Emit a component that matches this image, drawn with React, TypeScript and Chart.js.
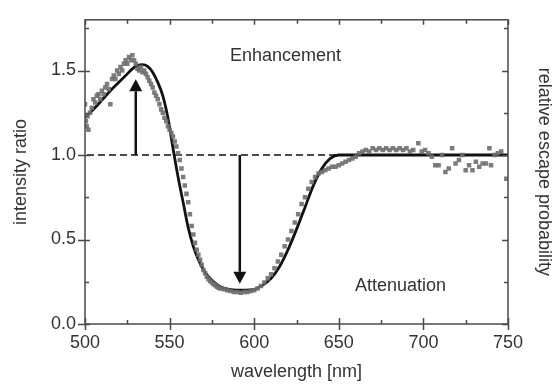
import { useEffect, useRef } from "react";
import { Chart, registerables } from "chart.js";
Chart.register(...registerables);

const X_MIN = 500;
const X_MAX = 750;
const Y_MIN = 0;
const Y_MAX = 1.8;
const X_TICKS = [500, 550, 600, 650, 700, 750];
const X_MINOR = [525, 575, 625, 675, 725];
const Y_TICKS = [0, 0.5, 1.0, 1.5];
const Y_MINOR = [0.25, 0.75, 1.25, 1.75];

const DATA_X = [
  500, 500.5, 501, 501.5, 502, 503, 504, 505, 506, 507, 508, 509, 510, 511, 512, 513, 514, 515, 516, 517,
  518, 519, 520, 521, 522, 523, 524, 525, 526, 527, 528, 529, 530, 531, 532, 533, 534, 535, 536, 537,
  538, 539, 540, 541, 542, 543, 544, 545, 546, 547, 548, 549, 550, 551, 552, 553, 554, 555, 556, 557,
  558, 559, 560, 561, 562, 563, 564, 565, 566, 567, 568, 569, 570, 571, 572, 573, 574, 575, 576, 577,
  578, 579, 580, 582, 584, 586, 588, 590, 592, 594, 596, 598, 600, 602, 604, 606, 608, 610, 612, 614,
  616, 618, 620, 622, 624, 626, 628, 630, 632, 634, 636, 638, 640, 642, 644, 646, 648, 650, 652, 654,
  656, 658, 660, 662, 664, 666, 668, 670, 672, 674, 676, 678, 680, 682, 684, 686, 688, 690, 692, 694,
  697, 699, 701, 703, 705, 707, 709, 711, 713, 715, 717, 719, 721, 723, 725, 727, 729, 731, 733, 735,
  737, 739, 740, 742, 744, 746, 749,
];
const DATA_Y = [
  1.30, 1.20, 1.17, 1.23, 1.15, 1.25, 1.28, 1.33, 1.31, 1.35, 1.36, 1.33, 1.38, 1.36, 1.40, 1.42, 1.39, 1.30, 1.45, 1.47,
  1.45, 1.50, 1.48, 1.52, 1.50, 1.54, 1.56, 1.54, 1.58, 1.56, 1.59, 1.56, 1.54, 1.51, 1.50, 1.52, 1.49, 1.50, 1.48, 1.46,
  1.44, 1.42, 1.40, 1.37, 1.35, 1.33, 1.30, 1.27, 1.25, 1.22, 1.20, 1.17, 1.15, 1.13, 1.11, 1.08, 1.05, 1.01, 0.97, 0.92,
  0.87, 0.82, 0.77, 0.72, 0.65, 0.58, 0.53, 0.48, 0.44, 0.41, 0.38, 0.35, 0.32, 0.30, 0.28, 0.265, 0.255, 0.245, 0.235, 0.23,
  0.22, 0.215, 0.21, 0.205, 0.20, 0.195, 0.19, 0.19, 0.185, 0.19, 0.19, 0.195, 0.20, 0.21, 0.225, 0.245, 0.27, 0.295, 0.33, 0.37,
  0.41, 0.46, 0.50, 0.55, 0.60, 0.65, 0.71, 0.75, 0.80, 0.84, 0.87, 0.89, 0.90, 0.91, 0.92, 0.93, 0.93, 0.94, 0.95, 0.96,
  0.97, 0.98, 0.99, 1.01, 1.02, 1.03, 1.02, 1.04, 1.03, 1.04, 1.03, 1.04, 1.03, 1.04, 1.03, 1.04, 1.03, 1.04, 1.02, 1.03,
  1.07, 1.02, 1.03, 1.01, 0.99, 0.94, 0.94, 1.00, 0.90, 0.92, 1.04, 0.95, 0.97, 1.00, 0.91, 0.94, 0.91, 0.96, 0.93, 0.95,
  0.95, 1.04, 0.94, 1.00, 1.01, 1.02, 0.86,
];

const FIT_X = [
  500, 505, 510, 515, 520, 525, 528, 531, 534, 537, 540, 543, 546, 549, 552, 555, 558, 561, 564, 567,
  570, 573, 576, 580, 585, 590, 595, 600, 605, 610, 615, 620, 625, 630, 635, 640, 645, 650, 660, 680,
  700, 720, 750,
];
const FIT_Y = [
  1.22, 1.27, 1.325, 1.38, 1.43, 1.48, 1.51, 1.53, 1.535, 1.525, 1.49, 1.43, 1.35, 1.22, 1.04, 0.87, 0.72, 0.57, 0.46, 0.38,
  0.32, 0.28, 0.25, 0.22, 0.205, 0.20, 0.20, 0.205, 0.23, 0.27, 0.34, 0.44, 0.56, 0.69, 0.82, 0.92, 0.98, 1.0, 1.0, 1.0,
  1.0, 1.0, 1.0,
];

const REF_LEVEL = 1.0;
const ARROWS = [
  { x: 530, from: 1.0, to: 1.448 },
  { x: 591.5, from: 1.0, to: 0.238 },
];
const NOTES = [
  { text: "Enhancement", x: 618.5, y: 1.585 },
  { text: "Attenuation", x: 686.5, y: 0.225 },
];

const FAMILY = "'Liberation Sans', Arial, Helvetica, sans-serif";
const TEXT = "#333";
const AXIS = "#4a4a4a";

export default function App() {
  const ref = useRef<HTMLCanvasElement>(null);
  useEffect(() => {
    const canvas = ref.current!;
    const font = { family: FAMILY, size: 18 };

    const overlay = {
      id: "overlay",
      beforeDatasetsDraw(chart: any) {
        const { ctx, chartArea: a, scales } = chart;
        const y = scales.y.getPixelForValue(REF_LEVEL);
        ctx.save();
        ctx.strokeStyle = "#111";
        ctx.lineWidth = 1.5;
        ctx.setLineDash([7, 4]);
        ctx.beginPath();
        ctx.moveTo(a.left + 2, y);
        ctx.lineTo(a.right, y);
        ctx.stroke();
        ctx.restore();
      },
      afterDatasetsDraw(chart: any) {
        const { ctx, scales } = chart;
        const xs = scales.x, ys = scales.y;
        ctx.save();
        ctx.strokeStyle = "#111";
        ctx.fillStyle = "#111";
        for (const ar of ARROWS) {
          const x = xs.getPixelForValue(ar.x);
          const y0 = ys.getPixelForValue(ar.from);
          const y1 = ys.getPixelForValue(ar.to);
          const dir = y1 < y0 ? 1 : -1;
          const head = 12;
          const hw = 6.5;
          ctx.lineWidth = 2.5;
          ctx.beginPath();
          ctx.moveTo(x, y0);
          ctx.lineTo(x, y1 + dir * head);
          ctx.stroke();
          ctx.beginPath();
          ctx.moveTo(x, y1);
          ctx.lineTo(x - hw, y1 + dir * head);
          ctx.lineTo(x + hw, y1 + dir * head);
          ctx.closePath();
          ctx.fill();
        }
        ctx.fillStyle = TEXT;
        ctx.font = `18px ${FAMILY}`;
        ctx.textAlign = "center";
        ctx.textBaseline = "middle";
        for (const n of NOTES) {
          ctx.fillText(n.text, xs.getPixelForValue(n.x), ys.getPixelForValue(n.y));
        }
        ctx.restore();
      },
      afterDraw(chart: any) {
        const { ctx, chartArea: a, scales } = chart;
        const xs = scales.x, ys = scales.y;
        ctx.save();
        ctx.strokeStyle = AXIS;
        ctx.lineWidth = 1.5;
        ctx.strokeRect(a.left, a.top, a.right - a.left, a.bottom - a.top);
        ctx.beginPath();
        for (const v of X_TICKS) {
          const p = Math.round(xs.getPixelForValue(v)) + 0.5;
          ctx.moveTo(p, a.bottom + 6);
          ctx.lineTo(p, a.bottom - 6);
          ctx.moveTo(p, a.top);
          ctx.lineTo(p, a.top + 5);
        }
        for (const v of X_MINOR) {
          const p = Math.round(xs.getPixelForValue(v)) + 0.5;
          ctx.moveTo(p, a.bottom);
          ctx.lineTo(p, a.bottom - 4);
          ctx.moveTo(p, a.top);
          ctx.lineTo(p, a.top + 4);
        }
        for (const v of Y_TICKS) {
          const p = Math.round(ys.getPixelForValue(v)) + 0.5;
          ctx.moveTo(a.left - 7, p);
          ctx.lineTo(a.left + 5, p);
          ctx.moveTo(a.right, p);
          ctx.lineTo(a.right - 6, p);
        }
        for (const v of Y_MINOR) {
          const p = Math.round(ys.getPixelForValue(v)) + 0.5;
          ctx.moveTo(a.left, p);
          ctx.lineTo(a.left + 4, p);
          ctx.moveTo(a.right, p);
          ctx.lineTo(a.right - 4, p);
        }
        ctx.stroke();
        ctx.restore();
      },
    };

    const chart = new Chart(canvas, {
      type: "scatter",
      data: {
        datasets: [
          {
            type: "scatter",
            label: "measured",
            data: DATA_X.map((x, i) => ({ x, y: DATA_Y[i] })),
            pointStyle: "rect",
            pointRadius: 3.2,
            backgroundColor: "rgba(110,110,110,0.9)",
            borderWidth: 0,
            order: 1,
          },
          {
            type: "line",
            label: "fit",
            data: FIT_X.map((x, i) => ({ x, y: FIT_Y[i] })),
            borderColor: "#111",
            borderWidth: 2.8,
            pointRadius: 0,
            cubicInterpolationMode: "monotone",
            fill: false,
            order: 2,
          },
        ],
      } as any,
      options: {
        responsive: false,
        animation: false,
        devicePixelRatio: 1,
        layout: { padding: { top: 15, left: 0, right: 0, bottom: 0 } },
        plugins: { legend: { display: false }, tooltip: { enabled: false } },
        scales: {
          x: {
            type: "linear",
            position: "bottom",
            min: X_MIN,
            max: X_MAX,
            afterBuildTicks: (s: any) => {
              s.ticks = X_TICKS.map((v) => ({ value: v }));
            },
            ticks: { font, color: TEXT, padding: 8, maxRotation: 0, autoSkip: false, callback: (v: any) => String(v) },
            grid: { display: false, drawTicks: false },
            border: { display: false },
            title: { display: true, text: "wavelength [nm]", font, color: TEXT, padding: { top: 0, bottom: 3 } },
            afterFit: (s: any) => {
              s.height = 62;
            },
          },
          y: {
            type: "linear",
            position: "left",
            min: Y_MIN,
            max: Y_MAX,
            afterBuildTicks: (s: any) => {
              s.ticks = Y_TICKS.map((v) => ({ value: v }));
            },
            ticks: { font, color: TEXT, padding: 9, callback: (v: any) => Number(v).toFixed(1) },
            grid: { display: false, drawTicks: false },
            border: { display: false },
            title: { display: true, text: "intensity ratio", font, color: TEXT, padding: { top: 10, bottom: 0 } },
            afterFit: (s: any) => {
              s.width = 85;
            },
          },
          y2: {
            type: "linear",
            position: "right",
            min: Y_MIN,
            max: Y_MAX,
            ticks: { display: false },
            grid: { display: false, drawTicks: false },
            border: { display: false },
            title: {
              display: true,
              text: "relative escape probability",
              font: { family: FAMILY, size: 18, lineHeight: 1 },
              color: TEXT,
              padding: { top: -1, bottom: 0 },
            },
            afterFit: (s: any) => {
              s.width = 44;
            },
          },
        },
      } as any,
      plugins: [overlay],
    });
    return () => chart.destroy();
  }, []);
  return (
    <div style={{ position: "fixed", left: 0, top: 0, width: 552, height: 386, background: "#fff" }}>
      <canvas ref={ref} width={552} height={386} style={{ display: "block" }} />
    </div>
  );
}
